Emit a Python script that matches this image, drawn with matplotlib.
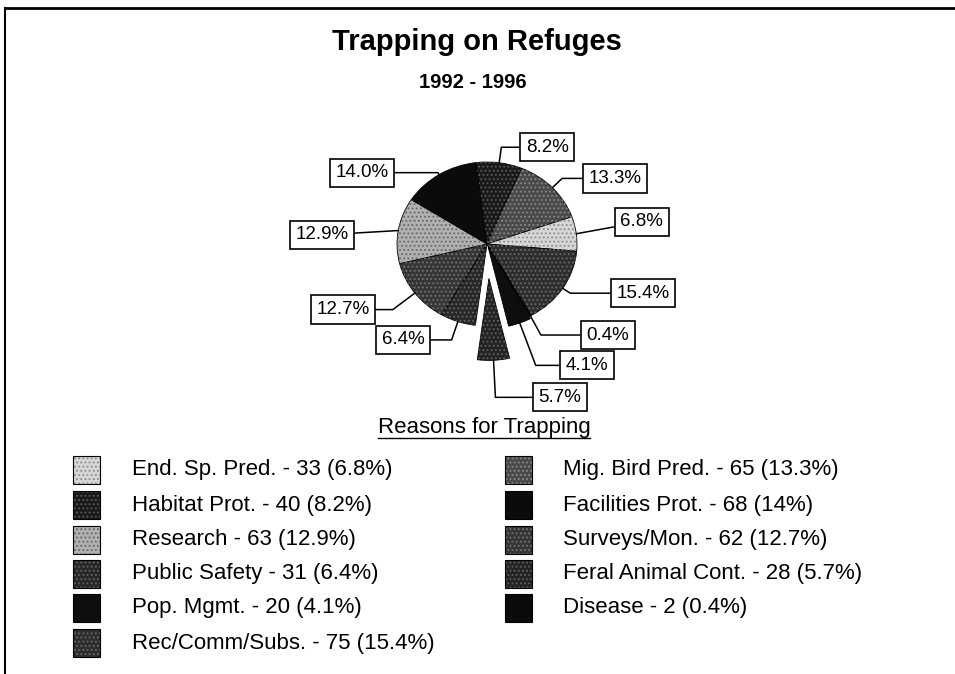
import numpy as np
import matplotlib.pyplot as plt
from matplotlib.patches import Rectangle
from matplotlib.lines import Line2D

# data (clockwise order round the pie, starting at the top)
reasons = ["Habitat Prot.", "Mig. Bird Pred.", "End. Sp. Pred.", "Rec/Comm/Subs.",
           "Disease", "Pop. Mgmt.", "Feral Animal Cont.", "Public Safety",
           "Surveys/Mon.", "Research", "Facilities Prot."]
counts = [40, 65, 33, 75, 2, 20, 28, 31, 62, 63, 68]
pct_labels = ["8.2%", "13.3%", "6.8%", "15.4%", "0.4%", "4.1%", "5.7%",
              "6.4%", "12.7%", "12.9%", "14.0%"]
legend_text = {
    "End. Sp. Pred.": "End. Sp. Pred. - 33 (6.8%)",
    "Habitat Prot.": "Habitat Prot. - 40 (8.2%)",
    "Research": "Research - 63 (12.9%)",
    "Public Safety": "Public Safety - 31 (6.4%)",
    "Pop. Mgmt.": "Pop. Mgmt. - 20 (4.1%)",
    "Rec/Comm/Subs.": "Rec/Comm/Subs. - 75 (15.4%)",
    "Mig. Bird Pred.": "Mig. Bird Pred. - 65 (13.3%)",
    "Facilities Prot.": "Facilities Prot. - 68 (14%)",
    "Surveys/Mon.": "Surveys/Mon. - 62 (12.7%)",
    "Feral Animal Cont.": "Feral Animal Cont. - 28 (5.7%)",
    "Disease": "Disease - 2 (0.4%)",
}
legend_left = ["End. Sp. Pred.", "Habitat Prot.", "Research", "Public Safety",
               "Pop. Mgmt.", "Rec/Comm/Subs."]
legend_right = ["Mig. Bird Pred.", "Facilities Prot.", "Surveys/Mon.",
                "Feral Animal Cont.", "Disease"]

# fill grey and dot grey (scanned dither look)
shade = {
    "Habitat Prot.": "#1a1a1a", "Mig. Bird Pred.": "#4a4a4a", "End. Sp. Pred.": "#d6d6d6",
    "Rec/Comm/Subs.": "#2e2e2e", "Disease": "#0a0a0a", "Pop. Mgmt.": "#0e0e0e",
    "Feral Animal Cont.": "#242424", "Public Safety": "#282828", "Surveys/Mon.": "#363636",
    "Research": "#b0b0b0", "Facilities Prot.": "#0b0b0b",
}
dots = {
    "Habitat Prot.": "#5a5a5a", "Mig. Bird Pred.": "#8a8a8a", "End. Sp. Pred.": "#8c8c8c",
    "Rec/Comm/Subs.": "#6a6a6a", "Disease": "#0a0a0a", "Pop. Mgmt.": "#0e0e0e",
    "Feral Animal Cont.": "#606060", "Public Safety": "#646464", "Surveys/Mon.": "#747474",
    "Research": "#666666", "Facilities Prot.": "#0b0b0b",
}
explode = [0.0, 0, 0, 0, 0, 0.03, 0.42, 0, 0, 0, 0]
# label box positions in pie radius units
label_pos = [(0.67, 1.18), (1.42, 0.80), (1.72, 0.27), (1.73, -0.60), (1.34, -1.11),
             (1.11, -1.48), (0.81, -1.87), (-0.93, -1.17), (-1.6, -0.80),
             (-1.83, 0.11), (-1.39, 0.87)]

W, H = 955, 674
fig = plt.figure(figsize=(W / 100, H / 100), dpi=100)
fig.patch.set_facecolor("white")
font = ["Liberation Sans", "DejaVu Sans"]
narrow = ["Liberation Sans Narrow", "DejaVu Sans Condensed", "Liberation Sans", "DejaVu Sans"]

def fx(px):
    return px / W

def fy(py):
    return 1 - py / H

# frame (top and left only)
fig.add_artist(Line2D([fx(5), fx(955)], [fy(8), fy(8)], color="black", lw=2))
fig.add_artist(Line2D([fx(5), fx(5)], [fy(8), fy(674)], color="black", lw=1.5))

fig.text(fx(477), fy(42), "Trapping on Refuges", ha="center", va="center",
         fontsize=21, fontweight="bold", family=narrow)
fig.text(fx(473), fy(82), "1992 - 1996", ha="center", va="center",
         fontsize=14.5, fontweight="bold", family=narrow)

# pie axes: 90 px per unit horizontally, 82 px per unit vertically, centre (487, 244)
x0, x1, y0, y1 = -2.5, 2.5, -2.2, 1.4
sx, sy, cx, cy = 90, 82, 487, 244
ax = fig.add_axes([fx(cx + x0 * sx), fy(cy - y0 * sy), (x1 - x0) * sx / W, (y1 - y0) * sy / H])
wedges, _ = ax.pie(counts, explode=explode, startangle=97, counterclock=False,
                   colors=[shade[r] for r in reasons],
                   wedgeprops=dict(edgecolor="black", linewidth=0.6))
plt.rcParams["hatch.linewidth"] = 0.8
dot_wedges, _ = ax.pie(counts, explode=explode, startangle=97, counterclock=False,
                       colors=["none"] * len(counts),
                       wedgeprops=dict(linewidth=0))
for w, r in zip(dot_wedges, reasons):
    w.set_hatch("....")
    w.set_edgecolor(dots[r])
ax.set_aspect("auto")
ax.set_xlim(x0, x1)
ax.set_ylim(y0, y1)
ax.axis("off")

for w, lab, (lx, ly), ex in zip(wedges, pct_labels, label_pos, explode):
    mid = np.deg2rad((w.theta1 + w.theta2) / 2)
    px = (1 + ex) * np.cos(mid)
    py = (1 + ex) * np.sin(mid)
    if abs(np.sin(mid)) < 0.3:
        conn = "arc3"
    else:
        conn = "angle,angleA=0,angleB=%.1f" % np.rad2deg(mid)
    ax.annotate(lab, xy=(px, py), xytext=(lx, ly), ha="center", va="center",
                fontsize=13.5, family=font, zorder=5,
                bbox=dict(boxstyle="square,pad=0.3", fc="white", ec="black", lw=1.2),
                arrowprops=dict(arrowstyle="-", color="black", lw=1.1,
                                connectionstyle=conn, shrinkA=0, shrinkB=0))

# legend
fig.text(fx(484), fy(428), "Reasons for Trapping", ha="center", va="center",
         fontsize=16, family=font)
fig.add_artist(Line2D([fx(378), fx(590)], [fy(438), fy(438)], color="black", lw=1))

rows_y = [470, 505, 540, 574, 608, 643]
for names, box_x, text_x in [(legend_left, 73, 132), (legend_right, 505, 563)]:
    for name, y in zip(names, rows_y):
        fig.add_artist(Rectangle((fx(box_x), fy(y + 14)), 27 / W, 28 / H,
                                 facecolor=shade[name], edgecolor=dots[name], hatch="....",
                                 lw=0, transform=fig.transFigure))
        fig.add_artist(Rectangle((fx(box_x), fy(y + 14)), 27 / W, 28 / H,
                                 facecolor="none", edgecolor="black", lw=0.8,
                                 transform=fig.transFigure))
        fig.text(fx(text_x), fy(y), legend_text[name], ha="left", va="center",
                 fontsize=16, family=font)

fig.savefig("out.png", dpi=100)
